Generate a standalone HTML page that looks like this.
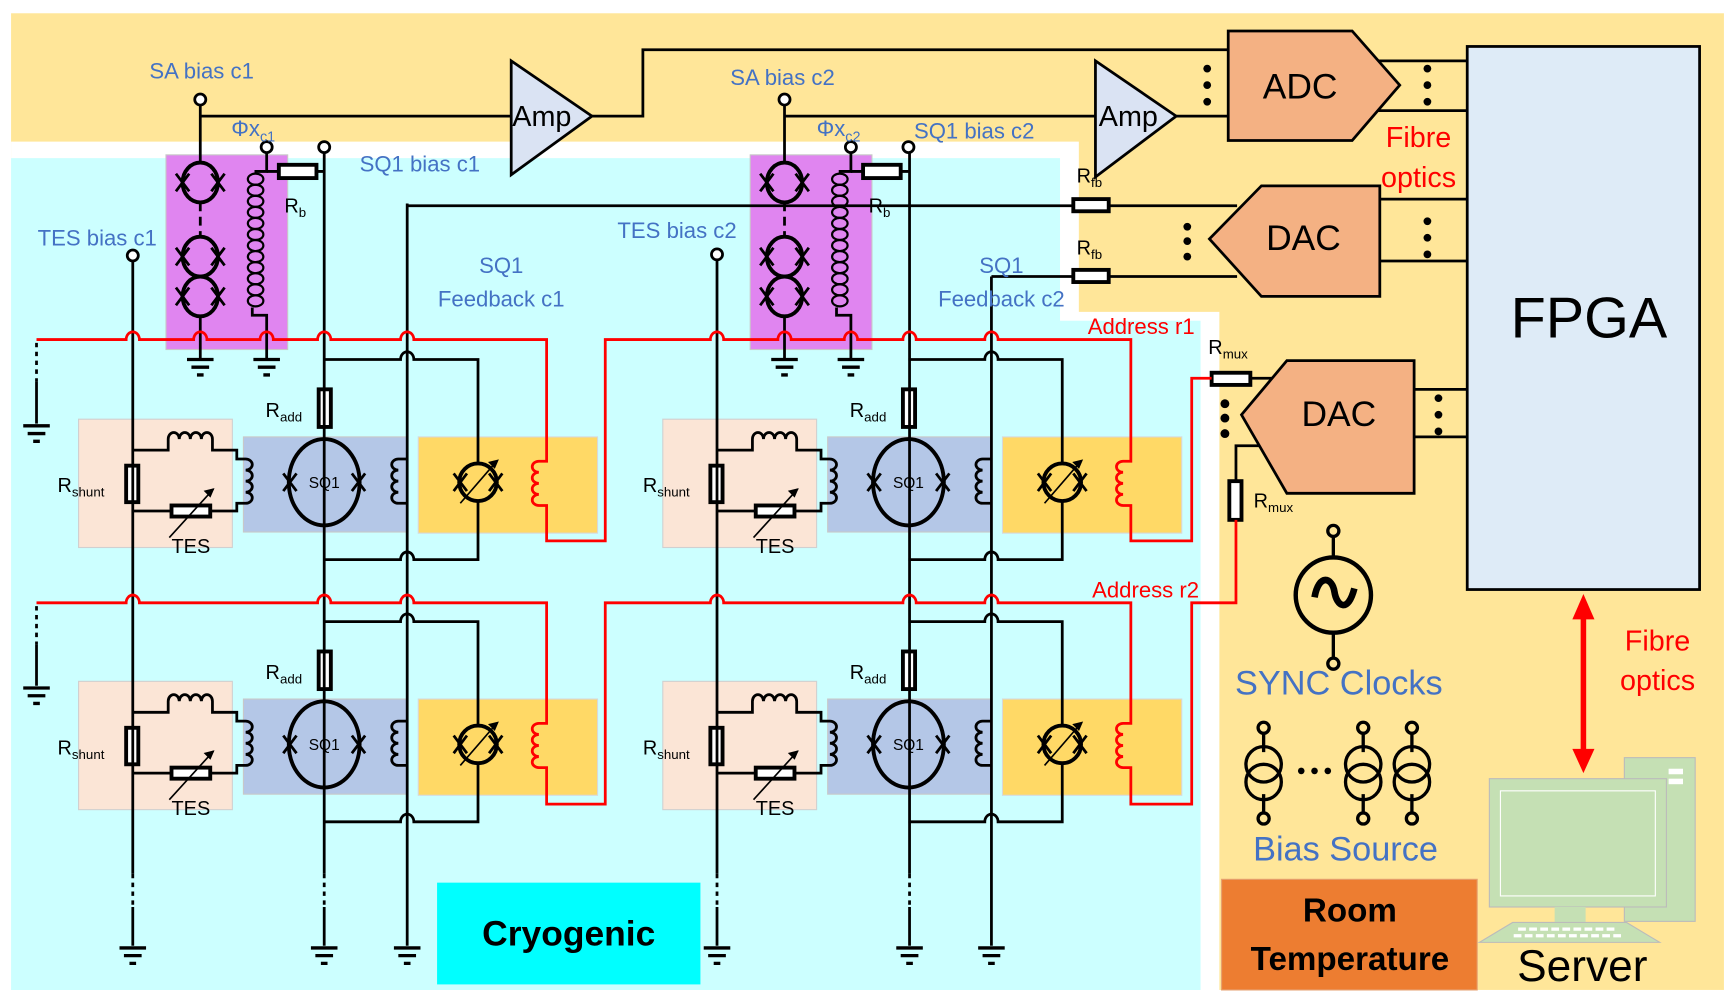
<!DOCTYPE html>
<html><head><meta charset="utf-8"><style>
html,body{margin:0;padding:0;background:#fff;}
svg{display:block;}
text{font-family:"Liberation Sans",sans-serif;}
</style></head><body>
<svg width="1735" height="1001" viewBox="0 0 1568 905" preserveAspectRatio="none" xmlns="http://www.w3.org/2000/svg">
<defs>
<g id="gnd" stroke="#000" stroke-width="3" fill="none"><path d="M-12 0H12M-8 7H8M-3 14H3"/></g>
<g id="jj" stroke="#000" stroke-width="2.5"><path d="M-6 -8L6 8M-6 8L6 -8"/></g>
<g id="cell" fill="none" stroke="#000" stroke-width="2.5">
  <rect x="71" y="379" width="139" height="116" fill="#FBE5D6" stroke="#d0d0d0" stroke-width="1"/>
  <rect x="220" y="395" width="148" height="86" fill="#B4C7E7" stroke="#c8c8c8" stroke-width="1"/>
  <rect x="378" y="395" width="162" height="87" fill="#FFD966" stroke="#d8d8d8" stroke-width="1"/>
  <path d="M120 407H152V397a5 6 0 0 1 10 0a5 6 0 0 1 10 0a5 6 0 0 1 10 0a5 6 0 0 1 10 0V407H214V415H222a6 5 0 0 1 0 10a6 5 0 0 1 0 10a6 5 0 0 1 0 10a6 5 0 0 1 0 10H214V462H190"/>
  <path d="M120 462H155"/>
  <rect x="155" y="457" width="35" height="10" fill="#fff" stroke-width="3.5"/>
  <rect x="114" y="421" width="11" height="33" fill="#fff" stroke-width="3.5"/>
  <path d="M153 486L193 442" stroke-width="1.5"/><path d="M193 442l-8 2 5 5z" fill="#000" stroke-width="1"/>
  <ellipse cx="293" cy="436" rx="32" ry="39" stroke-width="3.5" fill="#B4C7E7"/>
  <use href="#jj" x="262" y="436"/><use href="#jj" x="324" y="436"/>
  <path d="M368 415H360a6 5 0 0 0 0 10a6 5 0 0 0 0 10a6 5 0 0 0 0 10a6 5 0 0 0 0 10H368"/>
  <rect x="288" y="352" width="11" height="34" fill="#fff" stroke-width="3.5"/>
  <path d="M293 325H362a6 7 0 0 1 12 0H432V419M432 453V506H374a6 7 0 0 0 -12 0H293"/>
  <circle cx="432" cy="436" r="17" stroke-width="3.5"/>
  <use href="#jj" x="416" y="436"/><use href="#jj" x="448" y="436"/>
  <path d="M416 455L448 418" stroke-width="1.5"/><path d="M450 416l-8 2 5 5z" fill="#000" stroke-width="1"/>
</g>
<g id="sa" fill="none" stroke="#000" stroke-width="2.5">
  <rect x="150" y="140" width="110" height="176" fill="#E085F0" stroke="#c8c8c8" stroke-width="1"/>
  <circle cx="181" cy="90" r="5" stroke-width="2.5" fill="#fff"/>
  <path d="M181 95V147"/>
  <ellipse cx="181" cy="165" rx="16" ry="18" stroke-width="3.5"/>
  <path d="M181 183V214" stroke-dasharray="8 5"/>
  <ellipse cx="181" cy="232" rx="16" ry="18" stroke-width="3.5"/>
  <ellipse cx="181" cy="268" rx="16" ry="18" stroke-width="3.5"/>
  <use href="#jj" x="165" y="165"/><use href="#jj" x="197" y="165"/>
  <use href="#jj" x="165" y="232"/><use href="#jj" x="197" y="232"/>
  <use href="#jj" x="165" y="268"/><use href="#jj" x="197" y="268"/>
  <path d="M181 286V325"/><use href="#gnd" x="181" y="325"/>
  <circle cx="241" cy="133" r="5" fill="#fff"/>
  <path d="M241 138V155H230"/>
  <g stroke-width="2">
  <ellipse cx="231" cy="162" rx="7" ry="5"/><ellipse cx="231" cy="172" rx="7" ry="5"/><ellipse cx="231" cy="182" rx="7" ry="5"/><ellipse cx="231" cy="192" rx="7" ry="5"/><ellipse cx="231" cy="202" rx="7" ry="5"/><ellipse cx="231" cy="212" rx="7" ry="5"/><ellipse cx="231" cy="222" rx="7" ry="5"/><ellipse cx="231" cy="232" rx="7" ry="5"/><ellipse cx="231" cy="242" rx="7" ry="5"/><ellipse cx="231" cy="252" rx="7" ry="5"/><ellipse cx="231" cy="262" rx="7" ry="5"/><ellipse cx="231" cy="272" rx="7" ry="5"/>
  </g>
  <path d="M228 278V285H241V325"/><use href="#gnd" x="241" y="325"/>
  <path d="M241 155H252M286 155H293"/>
  <rect x="252" y="149" width="34" height="12" fill="#fff" stroke-width="3.5"/>
  <circle cx="293" cy="133" r="5" fill="#fff"/>
</g>
</defs>

<!-- backgrounds -->
<rect x="10" y="12" width="1548" height="883" fill="#FFE699"/>
<polygon points="10,128 975,128 975,282 1102,282 1102,895 10,895" fill="#fff"/>
<polygon points="10,143 958,143 958,290 1085,290 1085,895 10,895" fill="#CCFFFF"/>
<rect x="1104" y="795" width="231" height="100" fill="#ED7D31" stroke="#e6a070" stroke-width="1"/>
<rect x="395" y="798" width="238" height="92" fill="#00FFFF"/>

<!-- cells -->
<use href="#cell"/>
<use href="#cell" transform="translate(528,0)"/>
<use href="#cell" transform="translate(0,237)"/>
<use href="#cell" transform="translate(528,237)"/>
<use href="#sa"/>
<use href="#sa" transform="translate(528,0)"/>

<!-- column lines -->
<g fill="none" stroke="#000" stroke-width="2.5">
  <circle cx="120" cy="231" r="5" fill="#fff"/><circle cx="648" cy="230" r="5" fill="#fff"/>
  <path d="M120 236V790M293 138V790M648 235V790M822 138V790"/>
  <path d="M120 790V820M293 790V820M648 790V820M822 790V820" stroke-dasharray="4 4"/>
  <path d="M120 820V855M293 820V855M648 820V855M822 820V855M368 184V855M896 250V855"/>
  <use href="#gnd" x="120" y="857"/><use href="#gnd" x="293" y="857"/><use href="#gnd" x="368" y="857"/>
  <use href="#gnd" x="648" y="857"/><use href="#gnd" x="822" y="857"/><use href="#gnd" x="896" y="857"/>
  <path d="M33 310V345M33 548V583" stroke-dasharray="4 4"/>
  <path d="M33 345V383M33 583V620"/>
  <use href="#gnd" x="33" y="385"/><use href="#gnd" x="33" y="622"/>
  <!-- feedback lines -->
  <path d="M368 186H970M1002 186H1118M896 250H970M1002 250H1118"/>
  <rect x="970" y="180" width="32" height="11" fill="#fff" stroke-width="3.5"/>
  <rect x="970" y="244" width="32" height="11" fill="#fff" stroke-width="3.5"/>
  <!-- SA lines -->
  <path d="M181 105H462M535 105H581V45H1110M709 105H990M1063 105H1110"/>
  <path d="M1245 55H1326M1245 100H1326M1247 180H1326M1247 236H1326M1278 352H1326M1278 395H1326"/>
  <path d="M1130 342H1150M1140 403H1117V435"/>
  <rect x="1095" y="337" width="35" height="11" fill="#fff" stroke-width="3.5"/>
  <rect x="1111" y="435" width="11" height="35" fill="#fff" stroke-width="3.5"/>
</g>

<!-- red address lines -->
<g fill="none" stroke="#FF0000" stroke-width="2.5">
<path d="M33 307H114a6 7 0 0 1 12 0H175a6 7 0 0 1 12 0H235a6 7 0 0 1 12 0H287a6 7 0 0 1 12 0H362a6 7 0 0 1 12 0H494V417H487a6 5 0 0 0 0 10a6 5 0 0 0 0 10a6 5 0 0 0 0 10a6 5 0 0 0 0 10H494V489H547V307H642a6 7 0 0 1 12 0H703a6 7 0 0 1 12 0H763a6 7 0 0 1 12 0H816a6 7 0 0 1 12 0H890a6 7 0 0 1 12 0H1022V417H1015a6 5 0 0 0 0 10a6 5 0 0 0 0 10a6 5 0 0 0 0 10a6 5 0 0 0 0 10H1022V489H1077V342H1095"/>
<path d="M33 545H114a6 7 0 0 1 12 0H287a6 7 0 0 1 12 0H362a6 7 0 0 1 12 0H494V654H487a6 5 0 0 0 0 10a6 5 0 0 0 0 10a6 5 0 0 0 0 10a6 5 0 0 0 0 10H494V727H547V545H642a6 7 0 0 1 12 0H816a6 7 0 0 1 12 0H890a6 7 0 0 1 12 0H1022V654H1015a6 5 0 0 0 0 10a6 5 0 0 0 0 10a6 5 0 0 0 0 10a6 5 0 0 0 0 10H1022V727H1077V545H1117V470"/>
</g>

<!-- amps, converters, FPGA -->
<g stroke="#000" stroke-width="2.5">
<polygon points="462,55 462,158 535,105" fill="#DAE3F3"/>
<polygon points="990,55 990,160 1063,105" fill="#DAE3F3"/>
<polygon points="1110,28 1222,28 1265,77 1222,127 1110,127" fill="#F4B183"/>
<polygon points="1093,216 1140,168 1247,168 1247,268 1140,268" fill="#F4B183"/>
<polygon points="1122,375 1163,326 1278,326 1278,446 1163,446" fill="#F4B183"/>
<rect x="1326" y="42" width="210" height="491" fill="#DEEBF7"/>
</g>
<g fill="#000">
<circle cx="1091" cy="62" r="3.5"/><circle cx="1091" cy="77" r="3.5"/><circle cx="1091" cy="92" r="3.5"/>
<circle cx="1290" cy="62" r="3.5"/><circle cx="1290" cy="77" r="3.5"/><circle cx="1290" cy="92" r="3.5"/>
<circle cx="1073" cy="205" r="3.5"/><circle cx="1073" cy="218" r="3.5"/><circle cx="1073" cy="232" r="3.5"/>
<circle cx="1290" cy="200" r="3.5"/><circle cx="1290" cy="215" r="3.5"/><circle cx="1290" cy="230" r="3.5"/>
<circle cx="1107" cy="365" r="4"/><circle cx="1107" cy="378" r="4"/><circle cx="1107" cy="392" r="4"/>
<circle cx="1300" cy="360" r="3.5"/><circle cx="1300" cy="375" r="3.5"/><circle cx="1300" cy="390" r="3.5"/>
</g>

<!-- red arrow -->
<path d="M1431 555V682" stroke="#FF0000" stroke-width="5"/>
<polygon points="1421,560 1431,537 1441,560" fill="#FF0000"/>
<polygon points="1421,677 1431,699 1441,677" fill="#FF0000"/>

<!-- SYNC clock & bias sources -->
<g fill="none" stroke="#000" stroke-width="3">
<circle cx="1205" cy="538" r="34" stroke-width="4"/>
<path d="M1188 540c4-22 16-18 18-5s12 20 18 -3" stroke-width="6"/>
<circle cx="1205" cy="480" r="5"/><path d="M1205 485V504M1205 572V595"/><circle cx="1205" cy="600" r="5"/>
<g id="bs"><circle cx="1142" cy="658" r="5"/><path d="M1142 663V680M1142 718V735"/><circle cx="1142" cy="691" r="16"/><circle cx="1142" cy="707" r="16"/><circle cx="1142" cy="740" r="5"/></g>
<use href="#bs" x="90"/><use href="#bs" x="134"/>
</g>
<g fill="#000"><circle cx="1176" cy="697" r="3"/><circle cx="1188" cy="697" r="3"/><circle cx="1200" cy="697" r="3"/></g>

<!-- server -->
<rect x="1468" y="685" width="64" height="148" fill="#C5E0B4" stroke="#bbb"/>
<rect x="1508" y="695" width="13" height="5" fill="#fff"/><rect x="1508" y="704" width="13" height="5" fill="#fff"/>
<rect x="1346" y="704" width="160" height="116" fill="#C5E0B4" stroke="#bbb"/>
<rect x="1356" y="715" width="140" height="95" fill="#C5E0B4" stroke="#fff"/>
<rect x="1405" y="820" width="28" height="16" fill="#C5E0B4"/>
<polygon points="1337,852 1367,834 1470,834 1500,852" fill="#C5E0B4" stroke="#bbb"/>
<path d="M1372 840H1460M1368 846H1466" stroke="#fff" stroke-width="3" stroke-dasharray="7 3"/>

<!-- text -->
<g fill="#4472C4" font-size="20">
<text x="135" y="71">SA bias c1</text>
<text x="660" y="77">SA bias c2</text>
<text x="209" y="123">Φx<tspan font-size="13" dy="5">c1</tspan></text>
<text x="738" y="123">Φx<tspan font-size="13" dy="5">c2</tspan></text>
<text x="325" y="155">SQ1 bias c1</text>
<text x="826" y="125">SQ1 bias c2</text>
<text x="34" y="222">TES bias c1</text>
<text x="558" y="215">TES bias c2</text>
<text x="453" y="247" text-anchor="middle">SQ1</text>
<text x="453" y="277" text-anchor="middle">Feedback c1</text>
<text x="905" y="247" text-anchor="middle">SQ1</text>
<text x="905" y="277" text-anchor="middle">Feedback c2</text>
<text x="1210" y="628" text-anchor="middle" font-size="31">SYNC Clocks</text>
<text x="1216" y="778" text-anchor="middle" font-size="31">Bias Source</text>
</g>
<g fill="#FF0000" font-size="20">
<text x="983" y="302">Address r1</text>
<text x="987" y="540">Address r2</text>
<text x="1282" y="133" text-anchor="middle" font-size="26">Fibre</text>
<text x="1282" y="169" text-anchor="middle" font-size="26">optics</text>
<text x="1498" y="588" text-anchor="middle" font-size="26">Fibre</text>
<text x="1498" y="624" text-anchor="middle" font-size="26">optics</text>
</g>
<g fill="#000" font-size="18">
<text x="257" y="192">R<tspan font-size="12" dy="4">b</tspan></text>
<text x="785" y="192">R<tspan font-size="12" dy="4">b</tspan></text>
<text x="973" y="165">R<tspan font-size="12" dy="4">fb</tspan></text>
<text x="973" y="230">R<tspan font-size="12" dy="4">fb</tspan></text>
<text x="1092" y="320">R<tspan font-size="12" dy="4">mux</tspan></text>
<text x="1133" y="459">R<tspan font-size="12" dy="4">mux</tspan></text>
<text x="240" y="377">R<tspan font-size="12" dy="4">add</tspan></text>
<text x="768" y="377">R<tspan font-size="12" dy="4">add</tspan></text>
<text x="240" y="614">R<tspan font-size="12" dy="4">add</tspan></text>
<text x="768" y="614">R<tspan font-size="12" dy="4">add</tspan></text>
<text x="52" y="445">R<tspan font-size="12" dy="4">shunt</tspan></text>
<text x="581" y="445">R<tspan font-size="12" dy="4">shunt</tspan></text>
<text x="52" y="682">R<tspan font-size="12" dy="4">shunt</tspan></text>
<text x="581" y="682">R<tspan font-size="12" dy="4">shunt</tspan></text>
<text x="155" y="500">TES</text><text x="683" y="500">TES</text>
<text x="155" y="737">TES</text><text x="683" y="737">TES</text>
<g font-size="14" text-anchor="middle"><text x="293" y="441">SQ1</text><text x="821" y="441">SQ1</text><text x="293" y="678">SQ1</text><text x="821" y="678">SQ1</text></g>
<text x="463" y="114" font-size="26">Amp</text>
<text x="993" y="114" font-size="26">Amp</text>
<text x="1175" y="89" text-anchor="middle" font-size="32">ADC</text>
<text x="1178" y="226" text-anchor="middle" font-size="32">DAC</text>
<text x="1210" y="385" text-anchor="middle" font-size="32">DAC</text>
<text x="1436" y="305" text-anchor="middle" font-size="52">FPGA</text>
<text x="1430" y="887" text-anchor="middle" font-size="40">Server</text>
<text x="1220" y="833" text-anchor="middle" font-size="30" font-weight="bold">Room</text>
<text x="1220" y="877" text-anchor="middle" font-size="30" font-weight="bold">Temperature</text>
<text x="514" y="855" text-anchor="middle" font-size="32" font-weight="bold">Cryogenic</text>
</g>
</svg>
</body></html>
